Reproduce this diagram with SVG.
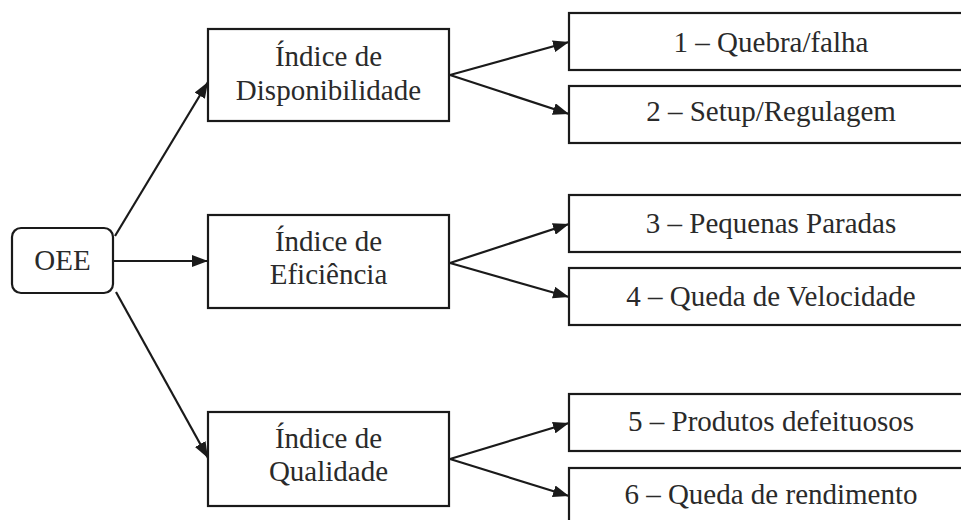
<svg xmlns="http://www.w3.org/2000/svg" width="961" height="520" viewBox="0 0 961 520">
<style>
.box{fill:#fff;stroke:#1a1a1a;stroke-width:2.2}
.t{font-family:"Liberation Serif","Times New Roman",serif;font-size:29px;fill:#2a2a2a;text-anchor:middle}
.c{stroke:#1a1a1a;stroke-width:2.2;fill:none;marker-end:url(#ah)}
</style>
<defs>
<marker id="ah" markerUnits="userSpaceOnUse" markerWidth="17" markerHeight="12" refX="16" refY="6" orient="auto">
<path d="M0,0 L16,6 L0,12 Z" fill="#1a1a1a"/>
</marker>
</defs>
<rect width="961" height="520" fill="#fff"/>
<g id="connectors">
<line class="c" x1="115" y1="236" x2="208" y2="82"/>
<line class="c" x1="113" y1="261" x2="208" y2="261"/>
<line class="c" x1="116" y1="292" x2="208" y2="458"/>
<line class="c" x1="450" y1="75" x2="569" y2="42"/>
<line class="c" x1="450" y1="75" x2="569" y2="114"/>
<line class="c" x1="450" y1="263" x2="569" y2="224"/>
<line class="c" x1="450" y1="263" x2="569" y2="297"/>
<line class="c" x1="450" y1="459" x2="569" y2="423"/>
<line class="c" x1="450" y1="459" x2="569" y2="496"/>
</g>
<g id="oee">
<rect class="box" x="12" y="228" width="101" height="65" rx="9"/>
<text class="t" x="62.5" y="270">OEE</text>
</g>
<g id="disponibilidade">
<rect class="box" x="208" y="29" width="241" height="92"/>
<text class="t" x="328.5" y="66">Índice de</text>
<text class="t" x="328.5" y="100">Disponibilidade</text>
</g>
<g id="eficiencia">
<rect class="box" x="208" y="215" width="241" height="93"/>
<text class="t" x="328.5" y="251">Índice de</text>
<text class="t" x="328.5" y="284">Eficiência</text>
</g>
<g id="qualidade">
<rect class="box" x="208" y="412" width="241" height="94"/>
<text class="t" x="328.5" y="448">Índice de</text>
<text class="t" x="328.5" y="481">Qualidade</text>
</g>
<g id="n1">
<rect class="box" x="569" y="13" width="410" height="57"/>
<text class="t" x="771" y="52">1 – Quebra/falha</text>
</g>
<g id="n2">
<rect class="box" x="569" y="86" width="410" height="57"/>
<text class="t" x="771" y="121">2 – Setup/Regulagem</text>
</g>
<g id="n3">
<rect class="box" x="569" y="195" width="410" height="57"/>
<text class="t" x="771" y="233">3 – Pequenas Paradas</text>
</g>
<g id="n4">
<rect class="box" x="569" y="268" width="410" height="57"/>
<text class="t" x="771" y="306">4 – Queda de Velocidade</text>
</g>
<g id="n5">
<rect class="box" x="569" y="394" width="410" height="57"/>
<text class="t" x="771" y="431">5 – Produtos defeituosos</text>
</g>
<g id="n6">
<rect class="box" x="569" y="468" width="410" height="57"/>
<text class="t" x="771" y="504">6 – Queda de rendimento</text>
</g>
</svg>
